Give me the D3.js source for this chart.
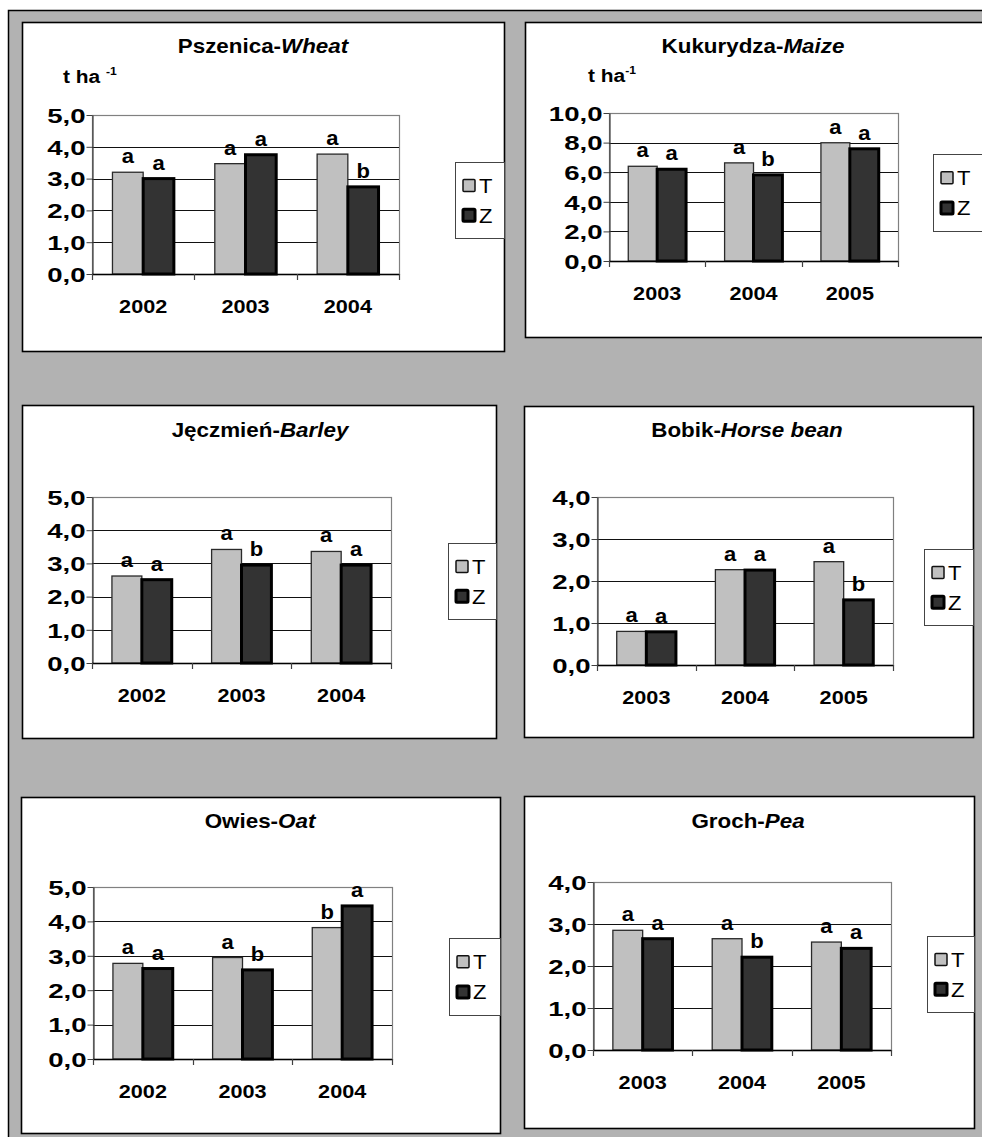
<!DOCTYPE html>
<html>
<head>
<meta charset="utf-8">
<script src="https://cdn.jsdelivr.net/npm/d3@7"></script>
<style>
  html, body { margin: 0; padding: 0; background: #ffffff; }
  svg { display: block; }
  text { font-family: "Liberation Sans", Arial, sans-serif; fill: #000; }
</style>
</head>
<body>
<svg id="chart" width="982" height="1137"></svg>
<script>
// ---------------- DATA ----------------
const seriesNames = ["T", "Z"];

const wheatYears = ["2002", "2003", "2004"];
const wheatT = [3.20, 3.47, 3.77];
const wheatZ = [3.00, 3.75, 2.74];
const wheatLettersT = ["a", "a", "a"];
const wheatLettersZ = ["a", "a", "b"];
const wheatTicks = [0, 1, 2, 3, 4, 5];

const maizeYears = ["2003", "2004", "2005"];
const maizeT = [6.40, 6.63, 7.99];
const maizeZ = [6.20, 5.82, 7.58];
const maizeLettersT = ["a", "a", "a"];
const maizeLettersZ = ["a", "b", "a"];
const maizeTicks = [0, 2, 4, 6, 8, 10];

const barleyYears = ["2002", "2003", "2004"];
const barleyT = [2.62, 3.42, 3.36];
const barleyZ = [2.51, 2.95, 2.95];
const barleyLettersT = ["a", "a", "a"];
const barleyLettersZ = ["a", "b", "a"];
const barleyTicks = [0, 1, 2, 3, 4, 5];

const beanYears = ["2003", "2004", "2005"];
const beanT = [0.80, 2.27, 2.46];
const beanZ = [0.79, 2.26, 1.55];
const beanLettersT = ["a", "a", "a"];
const beanLettersZ = ["a", "a", "b"];
const beanTicks = [0, 1, 2, 3, 4];

const oatYears = ["2002", "2003", "2004"];
const oatT = [2.78, 2.95, 3.82];
const oatZ = [2.63, 2.59, 4.45];
const oatLettersT = ["a", "a", "b"];
const oatLettersZ = ["a", "b", "a"];
const oatTicks = [0, 1, 2, 3, 4, 5];

const peaYears = ["2003", "2004", "2005"];
const peaT = [2.85, 2.65, 2.57];
const peaZ = [2.65, 2.21, 2.42];
const peaLettersT = ["a", "a", "a"];
const peaLettersZ = ["a", "b", "a"];
const peaTicks = [0, 1, 2, 3, 4];

// ---------------- LAYOUT ----------------
const panels = [
  { plTitle: "Pszenica-", enTitle: "Wheat", years: wheatYears, T: wheatT, Z: wheatZ, lT: wheatLettersT, lZ: wheatLettersZ, ticks: wheatTicks,
    box: [22, 22, 504, 351], plot: [92, 399, 115, 274], legend: [455, 504, 162, 238], title: [263, 53], unit: { x: 63, y: 83, space: true } },
  { plTitle: "Kukurydza-", enTitle: "Maize", years: maizeYears, T: maizeT, Z: maizeZ, lT: maizeLettersT, lZ: maizeLettersZ, ticks: maizeTicks,
    box: [525, 22, 995, 337], plot: [609, 898, 113, 261], legend: [933, 995, 154, 231], title: [753, 53], unit: { x: 588, y: 82, space: false } },
  { plTitle: "Jęczmień-", enTitle: "Barley", years: barleyYears, T: barleyT, Z: barleyZ, lT: barleyLettersT, lZ: barleyLettersZ, ticks: barleyTicks,
    box: [22, 405, 496, 738], plot: [92, 391, 497, 663], legend: [448, 496, 543, 619], title: [260, 437], unit: null },
  { plTitle: "Bobik-", enTitle: "Horse bean", years: beanYears, T: beanT, Z: beanZ, lT: beanLettersT, lZ: beanLettersZ, ticks: beanTicks,
    box: [524, 406, 973, 737], plot: [597, 893, 497, 665], legend: [924, 973, 549, 625], title: [747, 437], unit: null },
  { plTitle: "Owies-", enTitle: "Oat", years: oatYears, T: oatT, Z: oatZ, lT: oatLettersT, lZ: oatLettersZ, ticks: oatTicks,
    box: [21, 797, 500, 1133], plot: [93, 392, 887, 1059], legend: [449, 500, 938, 1015], title: [260, 828], unit: null },
  { plTitle: "Groch-", enTitle: "Pea", years: peaYears, T: peaT, Z: peaZ, lT: peaLettersT, lZ: peaLettersZ, ticks: peaTicks,
    box: [524, 796, 974, 1128], plot: [593, 891, 882, 1050], legend: [927, 974, 936, 1012], title: [748, 828], unit: null }
];

const fillT = "#c0c0c0", strokeT = "#2a2a2a";
const fillZ = "#333333", strokeZ = "#000000";
const TICK_SX = 1.38;
const fmt = d => d.toFixed(1).replace(".", ",");

const svg = d3.select("#chart");

// outer grey background frame
svg.append("rect").attr("x", 8.5).attr("y", 10.5).attr("width", 990).attr("height", 1140)
  .attr("fill", "#b2b2b2").attr("stroke", "#000").attr("stroke-width", 1.5);

function stext(parent, x, y, opts) {
  const g = parent.append("g").attr("transform", `translate(${x},${y}) scale(${opts.sx || 1.17},1)`);
  const t = g.append("text")
    .attr("text-anchor", opts.anchor || "start")
    .style("font-size", (opts.size || 18) + "px")
    .style("font-weight", opts.weight || "bold");
  if (opts.text !== undefined) t.text(opts.text);
  return t;
}

panels.forEach(p => {
  const g = svg.append("g");
  const [bx0, by0, bx1, by1] = p.box;
  g.append("rect").attr("x", bx0 + 0.5).attr("y", by0 + 0.5)
    .attr("width", bx1 - bx0).attr("height", by1 - by0)
    .attr("fill", "#fff").attr("stroke", "#000").attr("stroke-width", 1.6);

  // title
  const tt = stext(g, p.title[0], p.title[1], { anchor: "middle", size: 20, sx: 1.12 });
  tt.append("tspan").text(p.plTitle);
  tt.append("tspan").style("font-style", "italic").text(p.enTitle);

  // unit
  if (p.unit) {
    const ut = stext(g, p.unit.x, p.unit.y, { size: 19, sx: 1.1 });
    ut.append("tspan").text(p.unit.space ? "t ha " : "t ha");
    ut.append("tspan").attr("dy", -8).style("font-size", "11px").text("-1");
  }

  const [px0, px1, py0, py1] = p.plot;
  const maxV = p.ticks[p.ticks.length - 1];
  const y = d3.scaleLinear().domain([0, maxV]).range([py1, py0]);
  const x = d3.scaleBand().domain(p.years).range([px0, px1]).paddingInner(0).paddingOuter(0);
  const xs = d3.scaleBand().domain(seriesNames).range([x.bandwidth() * 0.2, x.bandwidth() * 0.8]).padding(0);

  // plot border (grey top/right)
  g.append("rect").attr("x", px0 + 0.5).attr("y", y(maxV) + 0.5)
    .attr("width", px1 - px0).attr("height", y(0) - y(maxV))
    .attr("fill", "none").attr("stroke", "#808080").attr("stroke-width", 1.2);

  // gridlines
  g.append("g").selectAll("line").data(p.ticks.filter(t => t > 0 && t < maxV)).join("line")
    .attr("x1", px0).attr("x2", px1)
    .attr("y1", d => Math.round(y(d)) + 0.5).attr("y2", d => Math.round(y(d)) + 0.5)
    .attr("stroke", "#111").attr("stroke-width", 1.1);

  // y axis
  const yAxis = g.append("g").attr("transform", `translate(${px0 + 0.5},0)`)
    .call(d3.axisLeft(y).tickValues(p.ticks).tickFormat(fmt).tickSize(6).tickPadding(2).tickSizeOuter(0));
  yAxis.select(".domain").attr("stroke", "#404040").attr("stroke-width", 1.2);
  yAxis.selectAll(".tick line").attr("stroke", "#404040");
  yAxis.selectAll(".tick text")
    .attr("fill", "#000")
    .style("font-family", '"Liberation Sans", Arial, sans-serif')
    .style("font-size", "20px").style("font-weight", "bold")
    .attr("x", -7 / TICK_SX)
    .attr("dy", "0.36em")
    .attr("transform", `scale(${TICK_SX},1)`);

  // bars
  const grp = g.append("g").selectAll("g").data(p.years).join("g")
    .attr("transform", d => `translate(${x(d)},0)`);
  grp.each(function (yr, i) {
    const gg = d3.select(this);
    const vals = [
      { s: "T", v: p.T[i], l: p.lT[i] },
      { s: "Z", v: p.Z[i], l: p.lZ[i] }
    ];
    gg.selectAll("rect").data(vals).join("rect")
      .attr("x", d => xs(d.s))
      .attr("y", d => y(d.v))
      .attr("width", xs.bandwidth())
      .attr("height", d => y(0) - y(d.v))
      .attr("fill", d => d.s === "T" ? fillT : fillZ)
      .attr("stroke", d => d.s === "T" ? strokeT : strokeZ)
      .attr("stroke-width", d => d.s === "T" ? 1.3 : 3);
    vals.forEach(d => {
      stext(gg, xs(d.s) + xs.bandwidth() / 2, y(d.v) - 9, { anchor: "middle", size: 20, sx: 1.1, text: d.l });
    });
  });

  // x axis line
  g.append("line").attr("x1", px0).attr("x2", px1)
    .attr("y1", Math.round(y(0)) + 0.5).attr("y2", Math.round(y(0)) + 0.5)
    .attr("stroke", "#000").attr("stroke-width", 1.3);
  // boundary ticks
  const bounds = p.years.map(d => x(d)).concat([x.range()[1]]);
  g.append("g").selectAll("line").data(bounds).join("line")
    .attr("x1", d => Math.round(d) + 0.5).attr("x2", d => Math.round(d) + 0.5)
    .attr("y1", y(0)).attr("y2", y(0) + 6)
    .attr("stroke", "#404040").attr("stroke-width", 1.2);
  // year labels
  p.years.forEach(yr => {
    stext(g, x(yr) + x.bandwidth() / 2, y(0) + 39, { anchor: "middle", size: 19, sx: 1.14, text: yr });
  });

  // legend
  const [lx0, lx1, ly0, ly1] = p.legend;
  g.append("rect").attr("x", lx0 + 0.5).attr("y", ly0 + 0.5)
    .attr("width", lx1 - lx0).attr("height", ly1 - ly0)
    .attr("fill", "#fff").attr("stroke", "#444").attr("stroke-width", 1);
  const lh = (ly1 - ly0);
  seriesNames.forEach((s, k) => {
    const cy = ly0 + lh * (k === 0 ? 0.31 : 0.7);
    g.append("rect").attr("x", lx0 + 8).attr("y", cy - 6).attr("width", 12).attr("height", 12)
      .attr("fill", s === "T" ? fillT : fillZ)
      .attr("stroke", s === "T" ? "#111" : "#000")
      .attr("stroke-width", s === "T" ? 1.5 : 3).attr("rx", 1);
    stext(g, lx0 + 24, cy + 7.5, { size: 21, weight: "normal", sx: 1.05, text: s });
  });
});
</script>
</body>
</html>
